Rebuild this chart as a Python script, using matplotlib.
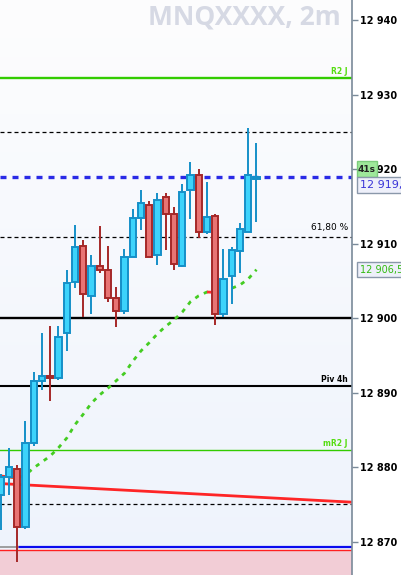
import numpy as np
import matplotlib.pyplot as plt
from matplotlib.patches import FancyBboxPatch

# 2-minute candles (oldest first)
opens = [12876.3, 12878.7, 12879.75, 12872.0, 12883.2, 12891.55, 12892.2, 12891.9,
         12898.0, 12904.9, 12909.7, 12903.0, 12907.0, 12906.5, 12902.7, 12900.9,
         12908.2, 12913.4, 12915.2, 12908.4, 12916.2, 12913.9, 12906.95, 12917.15,
         12919.2, 12911.6, 12913.7, 12900.6, 12905.7, 12909.0, 12911.6, 12918.6]
highs = [12879.1, 12882.6, 12880.3, 12886.2, 12892.8, 12898.0, 12898.9, 12898.9,
         12906.5, 12912.5, 12910.5, 12908.5, 12912.3, 12909.7, 12904.2, 12909.3,
         12914.7, 12917.2, 12915.7, 12916.8, 12916.8, 12914.9, 12918.0, 12920.9,
         12920.0, 12918.3, 12914.0, 12909.3, 12909.6, 12912.8, 12925.5, 12923.5]
lows = [12871.6, 12876.3, 12867.3, 12871.7, 12882.8, 12890.35, 12888.9, 12891.7,
        12895.6, 12904.1, 12900.15, 12900.5, 12906.1, 12902.2, 12898.85, 12900.55,
        12908.2, 12911.8, 12908.2, 12907.1, 12909.2, 12906.4, 12906.9, 12913.3,
        12910.8, 12911.3, 12899.1, 12900.2, 12901.9, 12906.1, 12911.6, 12912.9]
closes = [12878.7, 12880.0, 12872.0, 12883.2, 12891.5, 12892.2, 12891.9, 12897.5,
          12904.7, 12909.5, 12903.2, 12907.0, 12906.5, 12902.7, 12900.9, 12908.2,
          12913.4, 12915.4, 12908.2, 12915.9, 12913.9, 12907.2, 12916.9, 12919.2,
          12911.6, 12913.6, 12900.6, 12905.2, 12909.2, 12911.9, 12919.2, 12918.9]

# moving average
ma = [12878.8, 12878.7, 12878.55, 12878.95, 12879.9, 12880.7, 12881.5, 12882.6,
      12883.9, 12885.7, 12887.1, 12888.6, 12889.7, 12890.6, 12891.6, 12892.6,
      12894.2, 12895.6, 12896.7, 12897.9, 12898.9, 12899.75, 12900.8, 12902.2,
      12903.0, 12903.5, 12903.45, 12903.6, 12904.0, 12904.45, 12905.25, 12906.5]

# levels
r2_j = 12932.2
upper_dash = 12925.0
last_price = 12918.9
fib_618 = 12910.9
pivot_day = 12900.0
piv_4h = 12890.9
mr2_j = 12882.3
lower_dash = 12875.1
trend_line = [12877.8, 12875.3]
blue_low = 12869.3
red_low = 12868.9

yticks = [12870, 12880, 12890, 12900, 12910, 12920, 12930, 12940]

fig = plt.figure(figsize=(4.01, 5.75), dpi=100)
fig.patch.set_facecolor('white')
ax = fig.add_axes([0, 0, 352 / 401, 1])

xmin, xmax = -0.09, 42.58
ymin, ymax = 12865.53, 12942.68
ax.set_xlim(xmin, xmax)
ax.set_ylim(ymin, ymax)

# background gradient
top = np.array([0.992, 0.992, 0.996])
bot = np.array([0.933, 0.953, 0.988])
t = np.linspace(0, 1, 200)[:, None]
grad = (top * (1 - t) + bot * t)[:, None, :]
ax.imshow(grad, extent=[xmin, xmax, ymin, ymax], aspect='auto', zorder=0)

# pink zone at bottom
ax.axhspan(ymin, red_low, color='#f2cdd6', zorder=1, lw=0)
ax.axhline(red_low, color='#ff2020', lw=1.0, zorder=2)
x_blue = 17 / 8.25
ax.plot([x_blue, xmax], [blue_low, blue_low], color='#0a0aee', lw=1.6, zorder=2)
ax.plot([xmin, x_blue], [blue_low, blue_low], color='#909090', lw=1.2, zorder=2)

# horizontal levels
ax.axhline(r2_j, color='#33cc00', lw=1.7, zorder=2)
ax.axhline(mr2_j, color='#33cc00', lw=1.0, zorder=2)
ax.axhline(pivot_day, color='black', lw=1.7, zorder=2)
ax.axhline(piv_4h, color='black', lw=1.5, zorder=2)
for lvl in [upper_dash, fib_618, lower_dash]:
    ax.axhline(lvl, color='black', lw=0.9, ls=(0, (3.2, 2.4)), zorder=2)
ax.axhline(last_price, color='#2a2ae6', lw=2.4, ls=(0, (1.8, 1.8)), zorder=2)

# sloping red line
ax.plot([xmin, xmax], trend_line, color='#ff1a1a', lw=2.0, zorder=2, alpha=0.95)

# moving average
xs = np.arange(len(ma))
ax.plot(xs, ma, color='#44cc22', lw=2.0, ls=(0, (1.5, 2.0)), zorder=3)
for i in range(len(ma) - 1):
    if ma[i + 1] < ma[i]:
        ax.plot(xs[i:i + 2], ma[i:i + 2], color='#ff3030', lw=2.0,
                ls=(0, (1.5, 2.0)), zorder=3)

# candles
w = 0.78
for i in range(len(opens)):
    o, h, l, c = opens[i], highs[i], lows[i], closes[i]
    up = c >= o
    edge = '#1590c8' if up else '#a52828'
    face = '#3dd3fb' if up else '#e87474'
    ax.vlines(i, l, h, color=edge, lw=1.4, zorder=4)
    lo, hi = min(o, c), max(o, c)
    ax.bar(i, max(hi - lo, 0.25), bottom=lo, width=w, color=face,
           edgecolor=edge, linewidth=1.4, zorder=5)

# level labels
xr = xmax - 0.5
ax.text(xr, r2_j + 0.25, 'R2 J', color='#55dd11', fontsize=5.5, weight='bold',
        ha='right', va='bottom', zorder=6)
ax.text(xr, piv_4h + 0.25, 'Piv 4h', color='black', fontsize=5.5, weight='bold',
        ha='right', va='bottom', zorder=6)
ax.text(xr, mr2_j + 0.25, 'mR2 J', color='#55dd11', fontsize=5.5, weight='bold',
        ha='right', va='bottom', zorder=6)
ax.text(xr, fib_618 + 0.6, '61,80 %', color='black', fontsize=6.5,
        ha='right', va='bottom', zorder=6)

# right axis
ax.yaxis.tick_right()
ax.set_yticks(yticks)
ax.set_yticklabels(['{:,}'.format(v).replace(',', ' ') for v in yticks],
                   fontsize=7, weight='bold')
ax.tick_params(axis='y', length=4, width=1, color='#7a8a99', pad=2)
ax.set_xticks([])
for s in ['top', 'bottom', 'left']:
    ax.spines[s].set_visible(False)
ax.spines['right'].set_color('#7a8a99')
ax.spines['right'].set_linewidth(1.2)

# watermark
fig.text(341 / 401, 1 - 17 / 575, 'MNQXXXX, 2m', fontsize=19, weight='bold',
         color='#d6d9e4', ha='right', va='center', family='Open Sans')

# price boxes on axis
def fig_box(x0, y0, x1, y1, fc, ec):
    fig.patches.append(FancyBboxPatch((x0 / 401, 1 - y1 / 575),
                                      (x1 - x0) / 401, (y1 - y0) / 575,
                                      boxstyle='square,pad=0', fc=fc, ec=ec,
                                      lw=1, transform=fig.transFigure,
                                      figure=fig, zorder=10))

fig_box(357, 161, 376.5, 176.5, '#9ee89a', '#7ccc7c')
fig.text(366.5 / 401, 1 - 169.5 / 575, '41s', fontsize=6.5, weight='bold',
         color='#222222', ha='center', va='center', zorder=11)
fig_box(357, 176.5, 410, 193, '#eef0fa', '#8a98aa')
fig.text(360 / 401, 1 - 185 / 575, '12 919,75', fontsize=8,
         color='#3a35d8', ha='left', va='center', zorder=11)
fig_box(357, 261.5, 410, 276.5, '#eef0fa', '#8a98aa')
fig.text(360 / 401, 1 - 269.5 / 575, '12 906,54', fontsize=7,
         color='#33bb11', ha='left', va='center', zorder=11)

fig.savefig('out.png', dpi=100)
